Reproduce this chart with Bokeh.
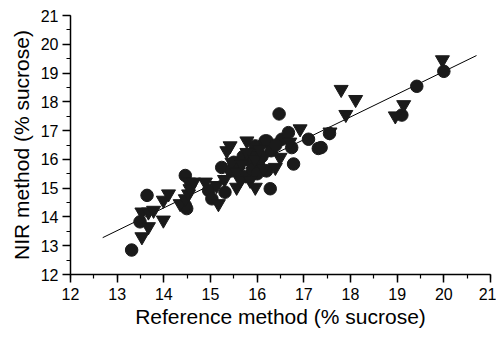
from bokeh.plotting import figure
from bokeh.models import Range1d, SingleIntervalTicker
from bokeh.embed import file_html
from bokeh.resources import INLINE

# Data
circle_x = [13.31, 13.49, 13.64, 14.46, 14.49, 14.46, 14.96, 15.03, 15.24, 15.31,
            15.45, 15.50, 15.60, 15.70, 15.85, 15.90, 15.96, 16.03, 16.10, 16.17,
            16.20, 16.21, 16.28, 16.30, 16.47, 16.53, 16.67, 16.74, 16.78, 17.10,
            17.31, 17.37, 17.55, 19.10, 19.42, 20.00, 15.75, 15.90, 16.00, 16.40]
circle_y = [12.85, 13.83, 14.75, 15.44, 14.29, 14.40, 14.92, 14.63, 15.72, 14.86,
            15.60, 15.90, 15.75, 16.10, 15.95, 16.20, 16.47, 15.84, 16.10, 16.64,
            15.60, 16.64, 14.98, 16.30, 17.58, 16.70, 16.93, 16.41, 15.84, 16.70,
            16.38, 16.41, 16.90, 17.54, 18.54, 19.06, 15.40, 15.65, 15.50, 16.50]

tri_x = [13.53, 13.67, 13.99, 13.53, 13.67, 13.78, 13.99, 14.10, 14.35, 14.46,
         14.53, 14.53, 14.56, 14.64, 14.89, 15.13, 15.17, 15.35, 15.42, 15.46,
         15.56, 15.56, 15.64, 15.67, 15.78, 15.78, 15.85, 15.96, 16.14, 16.39,
         16.49, 16.92, 17.56, 17.80, 17.90, 18.11, 18.96, 19.14, 19.97, 15.95,
         16.05, 16.70, 15.30]
tri_y = [13.31, 13.66, 13.89, 14.17, 14.17, 14.23, 14.58, 14.80, 14.46, 14.63,
         14.80, 15.21, 14.98, 15.21, 15.21, 15.09, 14.46, 16.30, 16.47, 15.90,
         15.55, 15.03, 15.27, 15.84, 16.64, 16.24, 15.27, 15.03, 15.67, 15.72,
         16.07, 17.06, 16.95, 18.43, 17.56, 18.08, 17.51, 17.90, 19.46, 16.00,
         16.35, 16.60, 15.30]

fit_x = [12.69, 20.70]
fit_intercept = 3.255
fit_slope = 0.79

x_ticks_start, x_ticks_end = 12, 21
y_ticks_start, y_ticks_end = 12, 21

fit_y = [fit_intercept + fit_slope * v for v in fit_x]

p = figure(width=496, height=330, output_backend="svg", toolbar_location=None,
           x_range=Range1d(x_ticks_start, x_ticks_end),
           y_range=Range1d(y_ticks_start, y_ticks_end),
           min_border_left=70, min_border_right=6, min_border_top=15, min_border_bottom=54)

p.outline_line_color = None
p.xgrid.visible = False
p.ygrid.visible = False
p.background_fill_color = "white"
p.border_fill_color = "white"

p.line(fit_x, fit_y, line_color="black", line_width=1)

p.scatter(circle_x, circle_y, marker="circle", size=12.5, fill_color="#1a1a1a",
          line_color="#1a1a1a")
p.scatter(tri_x, tri_y, marker="inverted_triangle", size=14, fill_color="#1a1a1a",
          line_color="#1a1a1a")

for ax in (p.xaxis[0], p.yaxis[0]):
    ax.ticker = SingleIntervalTicker(interval=1, num_minor_ticks=2)
    ax.axis_line_width = 1.5
    ax.axis_line_color = "black"
    ax.major_tick_line_color = "black"
    ax.minor_tick_line_color = "black"
    ax.major_tick_line_width = 1.5
    ax.minor_tick_line_width = 1.2
    ax.major_tick_out = 8
    ax.major_tick_in = 0
    ax.minor_tick_out = 4
    ax.minor_tick_in = 0
    ax.major_label_text_font = "Liberation Sans"
    ax.major_label_text_font_size = "16px"
    ax.major_label_text_color = "black"
    ax.axis_label_text_font = "Liberation Sans"
    ax.axis_label_text_font_size = "21px"
    ax.axis_label_text_font_style = "normal"
    ax.axis_label_text_color = "black"

p.xaxis.axis_label = "Reference method (% sucrose)"
p.yaxis.axis_label = "NIR method (% sucrose)"
p.xaxis.major_label_standoff = 5
p.yaxis.major_label_standoff = 4
p.xaxis.axis_label_standoff = 2
p.yaxis.axis_label_standoff = 5

open("out.html", "w").write(file_html(p, INLINE))
